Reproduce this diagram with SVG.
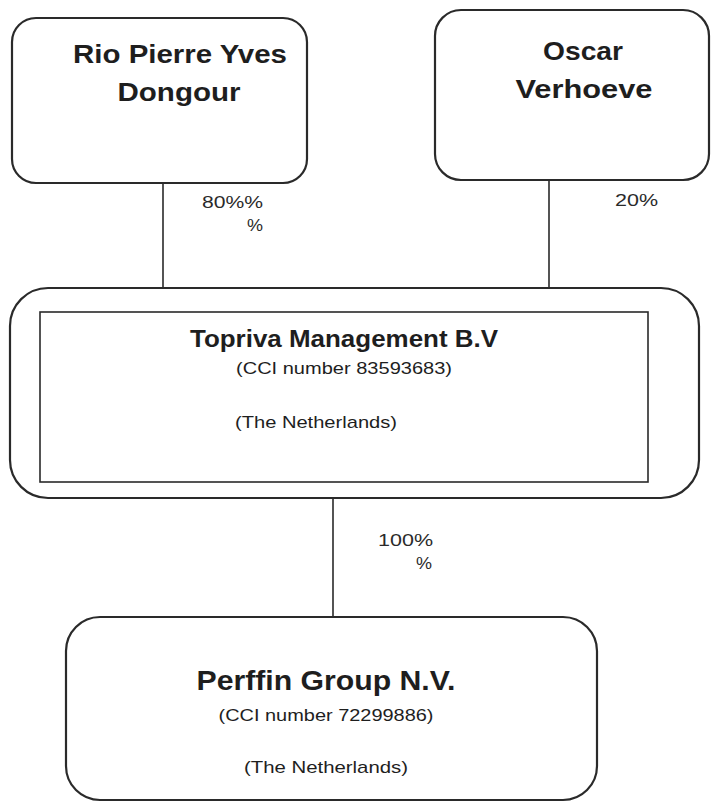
<svg xmlns="http://www.w3.org/2000/svg" width="712" height="804" viewBox="0 0 712 804">
<style>
.box{fill:#fff;stroke:#2a2a2a;stroke-width:2.2}
.ln{stroke:#2a2a2a;stroke-width:1.6;fill:none}
.t{font-family:"Liberation Sans",Arial,sans-serif;fill:#1e1e1e;text-anchor:middle}
.b{font-weight:bold}
.s{font-size:17px}
.p{font-family:"Liberation Sans",Arial,sans-serif;fill:#2a2a2a;font-size:16px}
</style>
<rect width="712" height="804" fill="#fff"/>
<g id="connectors">
<line class="ln" x1="163" y1="183" x2="163" y2="288"/>
<line class="ln" x1="549" y1="180" x2="549" y2="288"/>
<line class="ln" x1="333" y1="498" x2="333" y2="617"/>
<text class="p" x="202" y="208" textLength="61" lengthAdjust="spacingAndGlyphs">80%%</text>
<text class="p" x="247" y="231" textLength="16" lengthAdjust="spacingAndGlyphs">%</text>
<text class="p" x="615" y="206" textLength="43" lengthAdjust="spacingAndGlyphs">20%</text>
<text class="p" x="378" y="546" textLength="55" lengthAdjust="spacingAndGlyphs">100%</text>
<text class="p" x="416" y="569" textLength="16" lengthAdjust="spacingAndGlyphs">%</text>
</g>
<g id="rio">
<rect class="box" x="12" y="18" width="295" height="165" rx="24"/>
<text class="t b" x="180" y="63" font-size="26" textLength="214" lengthAdjust="spacingAndGlyphs">Rio Pierre Yves</text>
<text class="t b" x="179" y="101" font-size="26" textLength="123" lengthAdjust="spacingAndGlyphs">Dongour</text>
</g>
<g id="oscar">
<rect class="box" x="435" y="10" width="274" height="170" rx="26"/>
<text class="t b" x="583" y="60" font-size="26" textLength="80" lengthAdjust="spacingAndGlyphs">Oscar</text>
<text class="t b" x="584" y="98" font-size="26" textLength="137" lengthAdjust="spacingAndGlyphs">Verhoeve</text>
</g>
<g id="topriva">
<rect class="box" x="10" y="288" width="689" height="210" rx="38"/>
<rect x="40" y="312" width="608" height="170" fill="none" stroke="#2a2a2a" stroke-width="1.6"/>
<text class="t b" x="344" y="347" font-size="23" textLength="308" lengthAdjust="spacingAndGlyphs">Topriva Management B.V</text>
<text class="t s" x="344" y="374" textLength="216" lengthAdjust="spacingAndGlyphs">(CCI number 83593683)</text>
<text class="t s" x="316" y="428" textLength="162" lengthAdjust="spacingAndGlyphs">(The Netherlands)</text>
</g>
<g id="perffin">
<rect class="box" x="66" y="617" width="531" height="183" rx="34"/>
<text class="t b" x="326" y="690" font-size="28" textLength="259" lengthAdjust="spacingAndGlyphs">Perffin Group N.V.</text>
<text class="t s" x="326" y="721" textLength="215" lengthAdjust="spacingAndGlyphs">(CCI number 72299886)</text>
<text class="t s" x="326" y="773" textLength="164" lengthAdjust="spacingAndGlyphs">(The Netherlands)</text>
</g>
</svg>
